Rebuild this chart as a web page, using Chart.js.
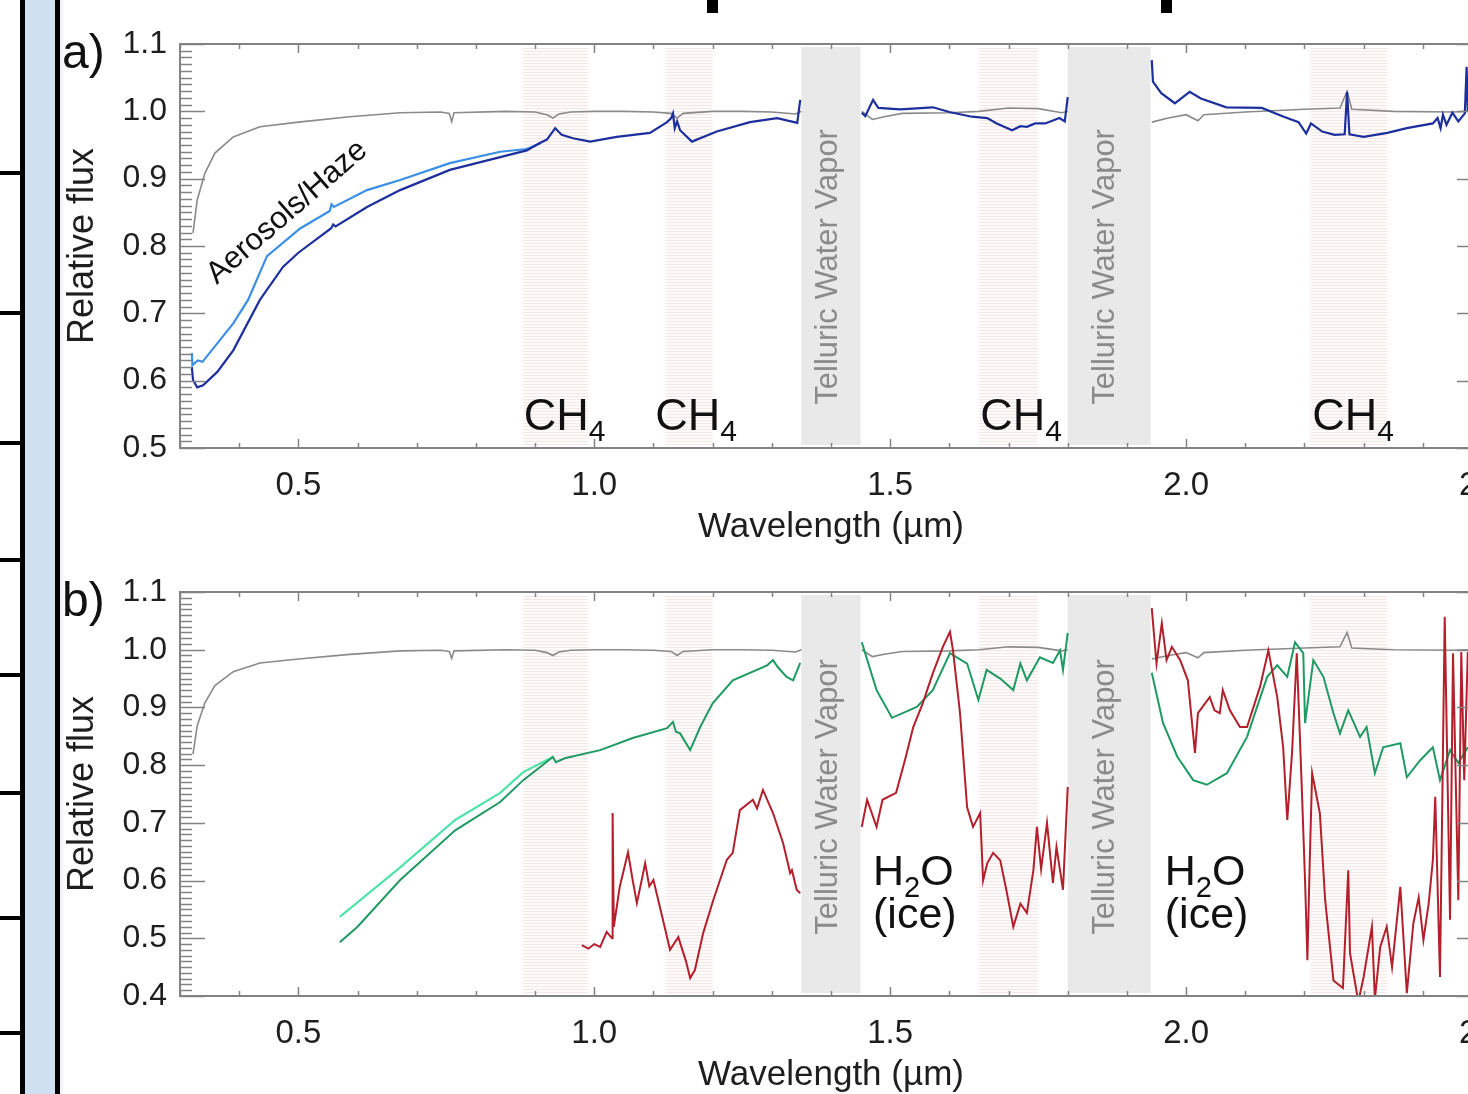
<!DOCTYPE html>
<html lang="en">
<head>
<meta charset="UTF-8">
<title>Relative flux spectra</title>
<script src="https://cdn.jsdelivr.net/npm/chart.js@4.4.1/dist/chart.umd.min.js"></script>
<style>
    html, body {
        margin: 0;
        padding: 0;
        width: 1468px;
        height: 1094px;
        overflow: hidden;
        background: #fff;
        font-family: "Liberation Sans", Arial, sans-serif;
    }
    .blk { position: absolute; background: #000; }
    .rail { position: absolute; left: 25px; top: 0; width: 30px; height: 1094px; background: #cfe0f1; }
    .fade { position: absolute; left: 60px; top: 0; width: 3px; height: 1094px; background: #eef4fa; }
    canvas { position: absolute; left: 0; }
</style>
</head>
<body>
<div class="rail"></div>
<div class="fade"></div>
<div class="blk" style="left:20px;top:0;width:5px;height:1094px"></div>
<div class="blk" style="left:55px;top:0;width:5px;height:1094px"></div>
<div id="rules"></div>
<div class="blk" style="left:707px;top:0;width:11px;height:13px"></div>
<div class="blk" style="left:1161px;top:0;width:11px;height:13px"></div>

<canvas id="panelA" width="1540" height="560" style="top:0"></canvas>
<canvas id="panelB" width="1540" height="560" style="top:548px"></canvas>

<script>
// wavelength (um) / relative flux pairs, null = masked telluric region
const xTickValues = [0.5, 1.0, 1.5, 2.0, 2.5];
const ch4Bands = [[0.88, 0.99], [1.12, 1.20], [1.65, 1.75], [2.21, 2.34]];
const telluricBands = [[1.35, 1.45], [1.80, 1.94]];
const ch4LabelX = [0.881, 1.103, 1.652, 2.213];
const telluricLabelX = [1.395, 1.863];
const iceLabelX = [1.471, 1.964];

const grayModel = [
    [0.322, 0.819], [0.329, 0.868], [0.342, 0.908], [0.359, 0.938], [0.39, 0.962],
    [0.435, 0.977], [0.50, 0.984], [0.587, 0.992], [0.672, 0.998], [0.74, 0.999],
    [0.755, 0.997], [0.759, 0.985], [0.763, 0.998], [0.85, 1.0], [0.90, 0.999],
    [0.92, 0.995], [0.93, 0.99], [0.94, 0.996], [0.96, 0.999], [1.0, 1.0],
    [1.05, 1.0], [1.10, 0.999], [1.13, 0.997], [1.14, 0.99], [1.15, 0.997],
    [1.2, 1.0], [1.25, 1.0], [1.3, 0.999], [1.34, 0.996], [1.35, 1.0],
    [1.40, null],
    [1.452, 1.0], [1.47, 0.988], [1.49, 0.992], [1.52, 0.997], [1.6, 0.998],
    [1.65, 1.0], [1.7, 1.005], [1.75, 1.004], [1.79, 0.998], [1.80, 1.0],
    [1.87, null],
    [1.942, 0.984], [1.97, 0.99], [2.0, 0.995], [2.02, 0.986], [2.03, 0.995],
    [2.1, 0.999], [2.2, 1.003], [2.26, 1.005], [2.272, 1.03], [2.28, 1.003],
    [2.35, 1.0], [2.45, 0.999], [2.476, 1.0]
];

const darkBlue = [
    [0.32, 0.62], [0.322, 0.601], [0.329, 0.59], [0.339, 0.593], [0.363, 0.613],
    [0.39, 0.645], [0.435, 0.72], [0.474, 0.769], [0.50, 0.79], [0.555, 0.826],
    [0.559, 0.832], [0.563, 0.829], [0.616, 0.858], [0.672, 0.883], [0.756, 0.913],
    [0.841, 0.932], [0.886, 0.942], [0.908, 0.953], [0.92, 0.958], [0.934, 0.975],
    [0.945, 0.965], [0.964, 0.96], [0.993, 0.955], [1.038, 0.962], [1.094, 0.968],
    [1.123, 0.984], [1.13, 0.99], [1.133, 0.997], [1.136, 0.975], [1.14, 0.985],
    [1.145, 0.972], [1.165, 0.955], [1.207, 0.97], [1.263, 0.984], [1.309, 0.99],
    [1.343, 0.983], [1.348, 1.017],
    [1.40, null],
    [1.452, 0.998], [1.458, 0.993], [1.471, 1.017], [1.48, 1.005], [1.517, 1.003],
    [1.572, 1.006], [1.60, 0.999], [1.638, 0.992], [1.664, 0.99], [1.68, 0.982],
    [1.706, 0.972], [1.72, 0.978], [1.731, 0.977], [1.745, 0.982], [1.762, 0.982],
    [1.786, 0.99], [1.795, 0.985], [1.80, 1.021],
    [1.87, null],
    [1.942, 1.076], [1.944, 1.044], [1.958, 1.027], [1.981, 1.012], [2.006, 1.029],
    [2.025, 1.019], [2.068, 1.006], [2.128, 1.005], [2.165, 0.992], [2.19, 0.984],
    [2.203, 0.967], [2.211, 0.982], [2.23, 0.97], [2.251, 0.965], [2.268, 0.966],
    [2.272, 1.029], [2.276, 0.966], [2.30, 0.962], [2.34, 0.968], [2.373, 0.975],
    [2.417, 0.982], [2.425, 0.99], [2.43, 0.975], [2.434, 0.995], [2.44, 0.98],
    [2.45, 0.998], [2.46, 0.985], [2.471, 0.997], [2.474, 1.066], [2.476, 1.0]
];

const lightBlue = [
    [0.32, 0.641], [0.321, 0.623], [0.33, 0.63], [0.338, 0.628], [0.39, 0.685],
    [0.415, 0.72], [0.447, 0.785], [0.503, 0.826], [0.553, 0.852], [0.556, 0.862],
    [0.56, 0.858], [0.616, 0.883], [0.672, 0.898], [0.756, 0.923], [0.841, 0.94],
    [0.886, 0.944], [0.91, 0.953]
];

const lightGreen = [
    [0.57, 0.537], [0.672, 0.623], [0.765, 0.705], [0.841, 0.752], [0.88, 0.788],
    [0.93, 0.814]
];

const darkGreen = [
    [0.57, 0.493], [0.60, 0.52], [0.672, 0.601], [0.765, 0.687], [0.841, 0.736],
    [0.88, 0.774], [0.90, 0.79], [0.93, 0.814], [0.935, 0.805], [0.95, 0.812],
    [1.01, 0.826], [1.065, 0.847], [1.123, 0.864], [1.133, 0.875], [1.138, 0.858],
    [1.145, 0.855], [1.162, 0.826], [1.179, 0.866], [1.20, 0.907], [1.234, 0.947],
    [1.292, 0.973], [1.302, 0.982], [1.31, 0.97], [1.325, 0.953], [1.336, 0.947],
    [1.348, 0.977],
    [1.40, null],
    [1.452, 1.013], [1.477, 0.93], [1.503, 0.882], [1.545, 0.901], [1.572, 0.93],
    [1.601, 0.994], [1.63, 0.976], [1.649, 0.913], [1.663, 0.965], [1.686, 0.95],
    [1.708, 0.93], [1.72, 0.976], [1.731, 0.947], [1.753, 0.987], [1.775, 0.977],
    [1.787, 0.999], [1.792, 0.965], [1.80, 1.029],
    [1.87, null],
    [1.942, 0.96], [1.961, 0.873], [1.985, 0.815], [2.012, 0.774], [2.035, 0.766],
    [2.069, 0.786], [2.103, 0.849], [2.137, 0.953], [2.154, 0.973], [2.171, 0.953],
    [2.184, 1.013], [2.198, 0.994], [2.201, 0.873], [2.215, 0.982], [2.232, 0.953],
    [2.249, 0.89], [2.26, 0.855], [2.274, 0.895], [2.294, 0.849], [2.305, 0.866],
    [2.319, 0.786], [2.333, 0.831], [2.362, 0.838], [2.373, 0.779], [2.396, 0.809],
    [2.417, 0.831], [2.429, 0.774], [2.446, 0.826], [2.46, 0.804], [2.476, 0.831]
];

const redSpectrum = [
    [0.979, 0.488], [0.99, 0.482], [1.0, 0.49], [1.01, 0.485], [1.021, 0.511],
    [1.03, 0.5], [1.031, 0.717], [1.033, 0.52], [1.043, 0.589], [1.057, 0.649],
    [1.065, 0.6], [1.072, 0.561], [1.086, 0.63], [1.093, 0.59], [1.1, 0.601],
    [1.116, 0.532], [1.128, 0.48], [1.142, 0.502], [1.155, 0.46], [1.162, 0.431],
    [1.17, 0.445], [1.184, 0.509], [1.201, 0.566], [1.224, 0.636], [1.234, 0.648],
    [1.246, 0.722], [1.268, 0.74], [1.275, 0.725], [1.285, 0.757], [1.302, 0.717],
    [1.319, 0.665], [1.331, 0.613], [1.334, 0.618], [1.342, 0.584], [1.348, 0.578],
    [1.40, null],
    [1.452, 0.693], [1.461, 0.74], [1.477, 0.693], [1.487, 0.74], [1.51, 0.752],
    [1.525, 0.809], [1.539, 0.866], [1.555, 0.907], [1.572, 0.959], [1.589, 1.005],
    [1.601, 1.031], [1.606, 1.0], [1.618, 0.89], [1.63, 0.727], [1.64, 0.693],
    [1.652, 0.717], [1.657, 0.6], [1.664, 0.63], [1.674, 0.648], [1.686, 0.635],
    [1.697, 0.58], [1.708, 0.52], [1.72, 0.56], [1.731, 0.544], [1.742, 0.618],
    [1.748, 0.693], [1.755, 0.62], [1.765, 0.70], [1.775, 0.596], [1.781, 0.658],
    [1.792, 0.584], [1.80, 0.762],
    [1.87, null],
    [1.942, 1.072], [1.95, 0.976], [1.959, 1.046], [1.967, 0.982], [1.976, 1.005],
    [1.99, 0.982], [2.003, 0.947], [2.015, 0.821], [2.02, 0.89], [2.04, 0.918],
    [2.048, 0.895], [2.057, 0.89], [2.062, 0.93], [2.074, 0.895], [2.091, 0.866],
    [2.103, 0.866], [2.125, 0.936], [2.139, 0.999], [2.154, 0.918], [2.164, 0.831],
    [2.171, 0.705], [2.179, 0.821], [2.187, 0.994], [2.195, 0.774], [2.201, 0.6],
    [2.205, 0.462], [2.209, 0.636], [2.213, 0.786], [2.226, 0.717], [2.235, 0.566],
    [2.249, 0.427], [2.265, 0.414], [2.274, 0.618], [2.277, 0.474], [2.291, 0.39],
    [2.30, 0.433], [2.314, 0.52], [2.319, 0.395], [2.328, 0.485], [2.339, 0.52],
    [2.348, 0.45], [2.362, 0.589], [2.373, 0.405], [2.384, 0.526], [2.393, 0.571],
    [2.401, 0.497], [2.41, 0.561], [2.417, 0.636], [2.421, 0.745], [2.429, 0.433],
    [2.437, 1.057], [2.446, 0.532], [2.451, 0.994], [2.46, 0.566], [2.465, 0.996],
    [2.47, 0.774], [2.476, 0.996]
];

// page furniture on the left
const ruleY = [173, 313, 443, 560, 675, 793, 918, 1033];
ruleY.forEach(y => {
    const d = document.createElement('div');
    d.className = 'blk';
    d.style.cssText = `left:0;top:${y - 2}px;width:22px;height:4px`;
    document.getElementById('rules').appendChild(d);
});

const FONT = '"Liberation Sans", Arial, sans-serif';

const hatch = (() => {
    const c = document.createElement('canvas');
    c.width = 4; c.height = 3;
    const g = c.getContext('2d');
    g.fillStyle = '#fefbfb'; g.fillRect(0, 0, 4, 3);
    g.fillStyle = '#f5e7e7'; g.fillRect(0, 0, 4, 1);
    return c;
})();

function subText(ctx, x, y, parts) {
    // parts: [text, size, dy]
    let cx = x;
    parts.forEach(([t, size, dy]) => {
        ctx.font = `${size}px ${FONT}`;
        ctx.fillText(t, cx, y + dy);
        cx += ctx.measureText(t).width;
    });
}

const spectraDecor = {
    id: 'spectraDecor',
    beforeDatasetsDraw(chart, args, opts) {
        const {ctx, chartArea: a, scales: {x}} = chart;
        ctx.save();
        ctx.fillStyle = ctx.createPattern(hatch, 'repeat');
        ch4Bands.forEach(([l, r]) => {
            const x0 = x.getPixelForValue(l), x1 = x.getPixelForValue(r);
            ctx.fillRect(x0, a.top + 3, x1 - x0, a.bottom - a.top - 6);
        });
        ctx.fillStyle = '#e9e9e9';
        telluricBands.forEach(([l, r]) => {
            const x0 = x.getPixelForValue(l), x1 = x.getPixelForValue(r);
            ctx.fillRect(x0, a.top + 3, x1 - x0, a.bottom - a.top - 6);
        });
        ctx.restore();
    },
    afterDatasetsDraw(chart, args, opts) {
        const {ctx, scales: {x, y}} = chart;
        ctx.save();
        // telluric labels
        ctx.fillStyle = '#8a8a8a';
        ctx.font = `31px ${FONT}`;
        ctx.textAlign = 'center';
        ctx.textBaseline = 'middle';
        telluricLabelX.forEach(lx => {
            ctx.save();
            ctx.translate(x.getPixelForValue(lx), y.getPixelForValue(opts.telluricY));
            ctx.rotate(-Math.PI / 2);
            ctx.fillText('Telluric Water Vapor', 0, 0);
            ctx.restore();
        });
        ctx.fillStyle = '#111';
        ctx.textAlign = 'left';
        ctx.textBaseline = 'alphabetic';
        if (opts.panel === 'a') {
            ch4LabelX.forEach(lx => {
                subText(ctx, x.getPixelForValue(lx), y.getPixelForValue(0.527),
                    [['CH', 45, 0], ['4', 30, 11]]);
            });
            ctx.save();
            ctx.translate(x.getPixelForValue(0.481), y.getPixelForValue(0.85));
            ctx.rotate(-41 * Math.PI / 180);
            ctx.font = `31px ${FONT}`;
            ctx.textAlign = 'center';
            ctx.textBaseline = 'middle';
            ctx.fillText('Aerosols/Haze', 0, 0);
            ctx.restore();
        } else {
            iceLabelX.forEach(lx => {
                const px = x.getPixelForValue(lx);
                subText(ctx, px, y.getPixelForValue(0.592), [['H', 43, 0], ['2', 29, 12], ['O', 43, 0]]);
                subText(ctx, px, y.getPixelForValue(0.518), [['(ice)', 43, 0]]);
            });
        }
        // panel letter
        ctx.font = `48px ${FONT}`;
        ctx.fillText(opts.label, 62, 68);
        ctx.restore();
    },
    afterDraw(chart) {
        const {ctx, chartArea: a, scales: {x, y}} = chart;
        ctx.save();
        ctx.strokeStyle = '#838383';
        ctx.lineWidth = 2;
        ctx.strokeRect(a.left, a.top, a.right - a.left, a.bottom - a.top);
        ctx.lineWidth = 1.5;
        ctx.beginPath();
        for (let k = Math.round(y.min * 100); k <= Math.round(y.max * 100); k++) {
            const py = Math.round(y.getPixelForValue(k / 100)) + 0.5;
            const len = k % 10 === 0 ? 25 : 12;
            ctx.moveTo(a.left, py); ctx.lineTo(a.left + len, py);
            ctx.moveTo(a.right, py); ctx.lineTo(a.right - len, py);
        }
        for (let k = Math.round(x.min * 10); k <= Math.round(x.max * 10); k++) {
            const px = Math.round(x.getPixelForValue(k / 10)) + 0.5;
            const len = k % 5 === 0 ? 9 : 5;
            ctx.moveTo(px, a.bottom); ctx.lineTo(px, a.bottom - len);
            ctx.moveTo(px, a.top); ctx.lineTo(px, a.top + len);
        }
        ctx.stroke();
        ctx.restore();
    }
};

function line(data, color, width) {
    return {
        data, borderColor: color, borderWidth: width,
        pointRadius: 0, tension: 0, spanGaps: false, fill: false
    };
}

function makeChart(id, yMin, yMax, datasets, decor) {
    return new Chart(document.getElementById(id), {
        type: 'line',
        data: { datasets },
        plugins: [spectraDecor],
        options: {
            responsive: false,
            animation: false,
            devicePixelRatio: 1,
            events: [],
            layout: { padding: { left: 0, right: 58, top: 44, bottom: 0 } },
            plugins: {
                legend: { display: false },
                tooltip: { enabled: false },
                spectraDecor: decor
            },
            scales: {
                x: {
                    type: 'linear',
                    min: 0.3,
                    max: 2.5,
                    grid: { display: false, drawTicks: false },
                    border: { display: false },
                    afterBuildTicks: s => { s.ticks = xTickValues.map(v => ({ value: v })); },
                    afterFit: s => { s.height = 112; },
                    ticks: {
                        autoSkip: false, maxRotation: 0, padding: 18,
                        color: '#1e1e1e', font: { family: FONT, size: 33 },
                        callback: v => Number(v).toFixed(1)
                    },
                    title: {
                        display: true, text: 'Wavelength (\u00b5m)', color: '#1e1e1e',
                        font: { family: FONT, size: 35 }, padding: { top: 0, bottom: 12 }
                    }
                },
                y: {
                    min: yMin,
                    max: yMax,
                    grid: { display: false, drawTicks: false },
                    border: { display: false },
                    afterFit: s => { s.width = 180; },
                    ticks: {
                        stepSize: 0.1, padding: 13,
                        color: '#1e1e1e', font: { family: FONT, size: 32 },
                        callback: v => Number(v).toFixed(1)
                    },
                    title: {
                        display: true, text: 'Relative flux', color: '#1e1e1e',
                        font: { family: FONT, size: 36 }, padding: { top: 61, bottom: 0 }
                    }
                }
            }
        }
    });
}

makeChart('panelA', 0.5, 1.1, [
    line(darkBlue, '#1d2f9c', 2.2),
    line(lightBlue, '#3b8fe6', 2.2),
    line(grayModel, '#8a8a8a', 1.6)
], { panel: 'a', label: 'a)', telluricY: 0.769 });

makeChart('panelB', 0.4, 1.1, [
    line(redSpectrum, '#b3202c', 2),
    line(darkGreen, '#1f9a62', 2),
    line(lightGreen, '#4fe3a9', 2.2),
    line(grayModel, '#8a8a8a', 1.6)
], { panel: 'b', label: 'b)', telluricY: 0.745 });
</script>
</body>
</html>
